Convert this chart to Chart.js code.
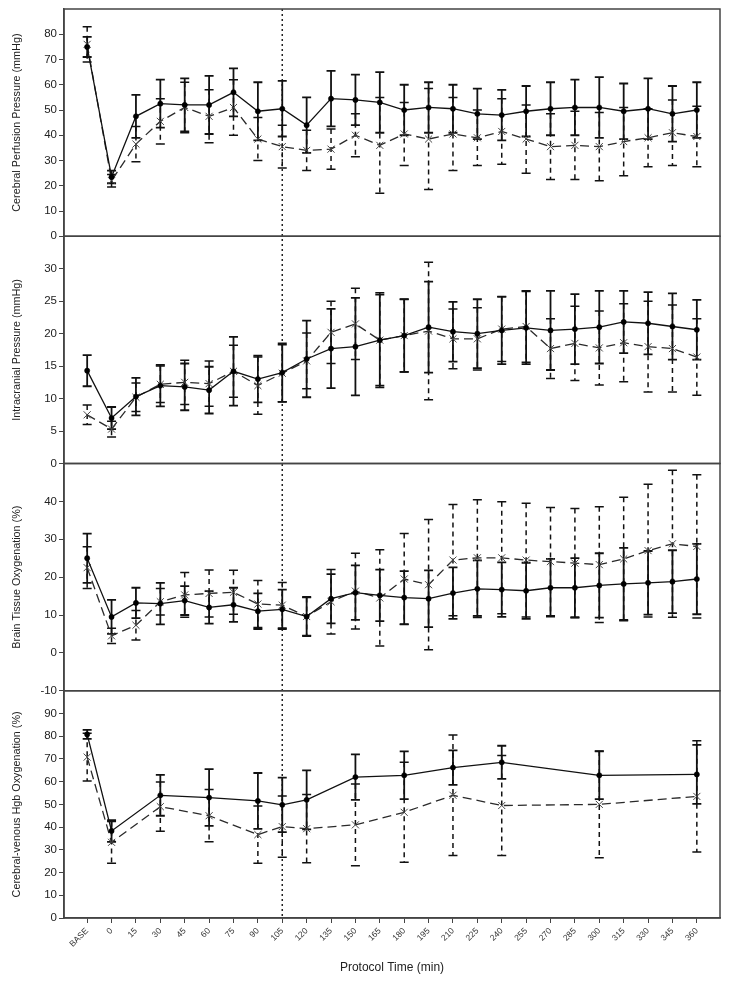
<!DOCTYPE html>
<html>
<head>
<meta charset="utf-8">
<script src="https://cdn.jsdelivr.net/npm/chart.js@4.4.1/dist/chart.umd.min.js"></script>
<style>
  html, body { margin: 0; padding: 0; background: #fff; }
  #wrap { width: 729px; height: 985px; }
</style>
</head>
<body>
<div id="wrap"><canvas id="chart" width="729" height="985"></canvas></div>
<script>
// protocol time points
const categories = ['BASE', '0', '15', '30', '45', '60', '75', '90', '105', '120', '135', '150', '165',
  '180', '195', '210', '225', '240', '255', '270', '285', '300', '315', '330', '345', '360']

// Cerebral perfusion pressure (solid = A, dashed = B), mean and SD
const cppA = [75, 23.5, 47.5, 52.5, 52, 52, 57, 49.5, 50.5, 44, 54.5, 54, 53, 50, 51, 50.5, 48.5, 48, 49.5, 50.5, 51, 51, 49.5, 50.5, 48.5, 50]
const cppASd = [4, 2.5, 8.5, 9.5, 10.5, 11.5, 9.5, 11.5, 11, 11, 11, 10, 12, 10, 10, 9.5, 10, 10, 10, 10.5, 11, 12, 11, 12, 11, 11]
const cppB = [76, 22, 36.5, 45.5, 51, 47.5, 51, 38.5, 35.5, 34, 34.5, 40, 36, 40.5, 38.5, 40.5, 39, 41.5, 38.5, 35.5, 36, 35.5, 37.5, 39, 41, 39.5]
const cppBSd = [7, 2.5, 7, 9, 10, 10.5, 11, 8.5, 8.5, 8, 8, 8.5, 19, 12.5, 20, 14.5, 11, 13, 13.5, 13, 13.5, 13.5, 13.5, 11.5, 13, 12]

// Intracranial pressure
const icpA = [14.3, 7, 10.3, 12, 11.8, 11.3, 14.2, 13, 14, 16.1, 17.7, 18, 19, 19.7, 21, 20.3, 20, 20.5, 20.9, 20.5, 20.7, 21, 21.8, 21.6, 21.1, 20.6]
const icpASd = [2.4, 1.7, 2.9, 3.2, 3.6, 3.6, 5.3, 3.6, 4.5, 5.9, 6.1, 7.5, 7, 5.6, 7, 4.6, 5.3, 5.2, 5.6, 6.1, 5.4, 5.6, 4.8, 4.8, 5.1, 4.6]
const icpB = [7.5, 5.3, 10.2, 12.2, 12.5, 12.3, 14.2, 12, 13.9, 15.8, 20.2, 21.5, 19, 19.7, 20.4, 19.2, 19.2, 20.7, 21.1, 17.7, 18.5, 17.8, 18.6, 18, 17.7, 16.4]
const icpBSd = [1.5, 1.2, 2.2, 2.8, 3.4, 3.5, 4, 4.4, 4.4, 4.3, 4.8, 5.5, 7.3, 5.6, 10.6, 4.6, 4.8, 5, 5.5, 4.6, 5.7, 5.7, 6, 7, 6.7, 5.9]

// Brain tissue oxygenation
const pbtA = [25, 9.5, 13.2, 13, 13.8, 12, 12.7, 11, 11.5, 9.6, 14.3, 15.9, 15.2, 14.6, 14.3, 15.8, 16.9, 16.7, 16.4, 17.2, 17.2, 17.8, 18.2, 18.5, 18.8, 19.5]
const pbtASd = [6.5, 4.5, 4, 5.5, 3.8, 4.3, 4.5, 4.7, 5.2, 5.2, 6.5, 7.2, 6.8, 7, 7.5, 6.8, 7.5, 7.2, 7.4, 7.6, 7.8, 8.5, 9.5, 8.4, 8.3, 9.3]
const pbtB = [22.5, 4.5, 7.3, 13.5, 15.3, 15.7, 16, 12.9, 12.6, 9.6, 13.5, 16.3, 14.5, 19.5, 18, 24.5, 25.1, 25.1, 24.5, 24.1, 23.7, 23.3, 24.8, 27, 28.8, 28.1]
const pbtBSd = [5.5, 2, 3.9, 3.5, 5.9, 6.2, 5.8, 6.2, 6, 5, 8.5, 10, 12.7, 12, 17.2, 14.7, 15.3, 14.8, 15, 14.3, 14.4, 15.3, 16.3, 17.5, 19.4, 18.9]

// Cerebral-venous Hgb oxygenation (sparse sampling)
const svjA = [80.8, 38.3, null, 54, null, 53, null, 51.5, 49.8, 52, null, 62, null, 62.8, null, 66.2, null, 68.5, null, null, null, 62.8, null, null, null, 63.2]
const svjASd = [2, 4.8, null, 9, null, 12.5, null, 12.3, 12, 13, null, 10, null, 10.5, null, 7.6, null, 7.3, null, null, null, 10.5, null, null, null, 13]
const svjB = [70.8, 33.3, null, 49, null, 45, null, 36.7, 40.2, 39.3, null, 41, null, 46.5, null, 54, null, 49.5, null, null, null, 50, null, null, null, 53.5]
const svjBSd = [10.5, 9.2, null, 10.8, null, 11.5, null, 12.6, 13.5, 15, null, 18, null, 22, null, 26.5, null, 22, null, null, null, 23.5, null, null, null, 24.5]

// y tick labels for each panel
const cppTicks = [0, 10, 20, 30, 40, 50, 60, 70, 80]
const icpTicks = [0, 5, 10, 15, 20, 25, 30]
const pbtTicks = [-10, 0, 10, 20, 30, 40]
const svjTicks = [0, 10, 20, 30, 40, 50, 60, 70, 80, 90]

const FONT = "'Liberation Sans', Arial, sans-serif"
const INK = '#111'

function toPoints (values) {
  return values.map((v, i) => ({ x: i, y: v }))
}

function solidSet (values, sd, axis) {
  return {
    data: toPoints(values), errors: sd, yAxisID: axis,
    borderColor: INK, borderWidth: 1.3, errWidth: 1.8,
    pointStyle: 'circle', pointRadius: 2.6, pointBorderWidth: 0.5,
    pointBackgroundColor: '#000', pointBorderColor: '#000',
    spanGaps: true, tension: 0
  }
}

function dashedSet (values, sd, axis) {
  return {
    data: toPoints(values), errors: sd, yAxisID: axis,
    borderColor: '#2a2a2a', borderWidth: 1.3, borderDash: [9, 5], errWidth: 1.5,
    pointStyle: 'crossRot', pointRadius: 5, pointBorderWidth: 1, pointBorderColor: '#444',
    pointBackgroundColor: 'transparent', spanGaps: true, tension: 0
  }
}

// draws mean +/- SD bars with caps, under the lines
const errorBars = {
  id: 'errorBars',
  beforeDatasetsDraw (chart) {
    const { ctx, scales } = chart
    chart.data.datasets.forEach(ds => {
      const yScale = scales[ds.yAxisID]
      const dash = ds.borderDash ? [5, 4] : []
      ctx.save()
      ctx.strokeStyle = INK
      ctx.lineWidth = ds.errWidth
      ds.errors.forEach((sd, i) => {
        const v = ds.data[i].y
        if (v == null || sd == null) return
        const x = scales.x.getPixelForValue(i)
        const top = yScale.getPixelForValue(v + sd)
        const bot = yScale.getPixelForValue(v - sd)
        ctx.setLineDash(dash)
        ctx.beginPath(); ctx.moveTo(x, top); ctx.lineTo(x, bot); ctx.stroke()
        ctx.setLineDash([])
        ctx.beginPath()
        ctx.moveTo(x - 4.5, top); ctx.lineTo(x + 4.5, top)
        ctx.moveTo(x - 4.5, bot); ctx.lineTo(x + 4.5, bot)
        ctx.stroke()
      })
      ctx.restore()
    })
  }
}

// panel boxes and the dotted 105 min marker
const panelFrames = {
  id: 'panelFrames',
  beforeDatasetsDraw (chart) {
    const { ctx, chartArea, scales } = chart
    const xMark = scales.x.getPixelForValue(categories.indexOf('105'))
    ctx.save()
    ctx.setLineDash([2, 3])
    ctx.lineWidth = 1.5
    ctx.strokeStyle = '#222'
    ctx.beginPath(); ctx.moveTo(xMark, chartArea.top); ctx.lineTo(xMark, chartArea.bottom); ctx.stroke()
    ctx.restore()
  },
  afterDraw (chart) {
    const { ctx, chartArea, scales } = chart
    ctx.save()
    ctx.strokeStyle = '#444'
    ctx.lineWidth = 1.5
    ;['yCpp', 'yIcp', 'yPbt', 'ySvj'].forEach(id => {
      const s = scales[id]
      ctx.strokeRect(chartArea.left, s.top, chartArea.right - chartArea.left, s.bottom - s.top)
    })
    ctx.restore()
  }
}

function panelAxis (title, min, max, ticks) {
  return {
    type: 'linear', position: 'left', stack: 'panels', stackWeight: 1,
    min: min, max: max,
    afterBuildTicks: scale => { scale.ticks = ticks.map(v => ({ value: v })) },
    afterFit: scale => { scale.width = 64 },
    grid: { drawOnChartArea: false, drawTicks: true, tickLength: 5, color: '#444' },
    border: { display: true, color: '#444', width: 1.5 },
    ticks: { autoSkip: false, font: { family: FONT, size: 11.5 }, color: '#222', padding: 2 },
    title: { display: true, text: title, font: { family: FONT, size: 10.8 }, color: '#222', padding: { top: 11, bottom: 0 } }
  }
}

new Chart(document.getElementById('chart'), {
  type: 'line',
  data: {
    datasets: [
      solidSet(cppA, cppASd, 'yCpp'), dashedSet(cppB, cppBSd, 'yCpp'),
      solidSet(icpA, icpASd, 'yIcp'), dashedSet(icpB, icpBSd, 'yIcp'),
      solidSet(pbtA, pbtASd, 'yPbt'), dashedSet(pbtB, pbtBSd, 'yPbt'),
      solidSet(svjA, svjASd, 'ySvj'), dashedSet(svjB, svjBSd, 'ySvj')
    ]
  },
  options: {
    responsive: false,
    animation: false,
    layout: { padding: { top: 9, right: 9, left: 0, bottom: 0 } },
    plugins: { legend: { display: false }, tooltip: { enabled: false } },
    scales: {
      x: {
        type: 'linear', min: -0.95, max: categories.length - 0.05,
        afterBuildTicks: scale => { scale.ticks = categories.map((c, i) => ({ value: i })) },
        afterFit: scale => { scale.height = 67 },
        grid: { drawOnChartArea: false, drawTicks: true, tickLength: 5, color: '#444' },
        border: { display: true, color: '#444', width: 1.5 },
        ticks: {
          autoSkip: false, minRotation: 45, maxRotation: 45, padding: 3,
          font: { family: FONT, size: 8.5 }, color: '#333',
          callback: value => categories[value]
        },
        title: { display: true, text: 'Protocol Time (min)', font: { family: FONT, size: 12 }, color: '#222', padding: { top: 0, bottom: 10 } }
      },
      ySvj: panelAxis('Cerebral-venous Hgb Oxygenation (%)', 0, 100, svjTicks),
      yPbt: panelAxis('Brain Tissue Oxygenation (%)', -10, 50, pbtTicks),
      yIcp: panelAxis('Intracranial Pressure (mmHg)', 0, 35, icpTicks),
      yCpp: panelAxis('Cerebral Perfusion Pressure (mmHg)', 0, 90, cppTicks)
    }
  },
  plugins: [panelFrames, errorBars]
})
</script>
</body>
</html>
